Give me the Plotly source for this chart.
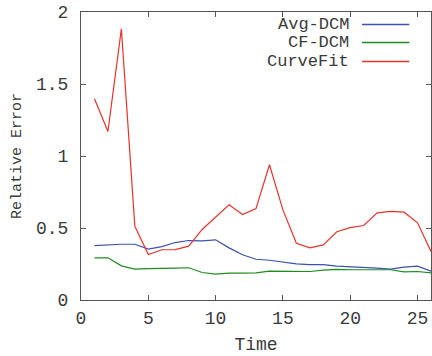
import plotly.graph_objects as go

time = list(range(1, 27))
avg_dcm = [0.378, 0.385, 0.387, 0.387, 0.353, 0.371, 0.399, 0.413, 0.411, 0.418,
           0.362, 0.314, 0.283, 0.276, 0.262, 0.251, 0.246, 0.246, 0.235, 0.232,
           0.228, 0.221, 0.214, 0.228, 0.235, 0.200]
cf_dcm = [0.293, 0.293, 0.237, 0.214, 0.218, 0.222, 0.222, 0.224, 0.191, 0.179,
          0.186, 0.186, 0.189, 0.200, 0.200, 0.200, 0.198, 0.207, 0.212, 0.210,
          0.210, 0.210, 0.210, 0.196, 0.198, 0.189]
curvefit = [1.397, 1.170, 1.883, 0.512, 0.316, 0.349, 0.350, 0.374, 0.490, 0.575,
            0.661, 0.594, 0.635, 0.939, 0.626, 0.394, 0.362, 0.383, 0.474, 0.503,
            0.517, 0.605, 0.615, 0.610, 0.536, 0.337]
names = ["Avg-DCM", "CF-DCM", "CurveFit"]
colors = ["#3a52b0", "#1e8c1e", "#e8322c"]
series = [avg_dcm, cf_dcm, curvefit]

FONT = "Liberation Mono, Courier New, monospace"
fig = go.Figure()
for n, s, c in zip(names, series, colors):
    fig.add_trace(go.Scatter(x=time, y=s, mode="lines", name=n,
                             line=dict(color=c, width=1.2), showlegend=False))

# gnuplot-style legend: text right-aligned, sample line to the right
leg_y = [0.957, 0.894, 0.828]
for n, c, yy in zip(names, colors, leg_y):
    fig.add_annotation(x=0.771, y=yy, xref="paper", yref="paper", text=n,
                       showarrow=False, xanchor="right", yanchor="middle",
                       font=dict(family=FONT, size=17, color="#3a3a3a"))
    fig.add_shape(type="line", xref="paper", yref="paper",
                  x0=0.803, x1=0.938, y0=yy, y1=yy,
                  line=dict(color=c, width=1.5))

axis_common = dict(showline=True, mirror="allticks", linecolor="#555", linewidth=1,
                   ticks="inside", ticklen=5, tickcolor="#555", showgrid=False,
                   zeroline=False, tickfont=dict(family=FONT, size=18, color="#3a3a3a"))
fig.update_xaxes(range=[0, 26], tickvals=[0, 5, 10, 15, 20, 25], ticklabelstandoff=1,
                 title=dict(text="Time", font=dict(family=FONT, size=18, color="#3a3a3a"), standoff=9),
                 **axis_common)
fig.update_yaxes(range=[0, 2], tickvals=[0, 0.5, 1, 1.5, 2],
                 ticktext=["0", "0.5", "1", "1.5", "2"], ticklabelstandoff=8,
                 title=dict(text="Relative Error", font=dict(family=FONT, size=15, color="#3a3a3a"), standoff=10),
                 **axis_common)
fig.update_layout(width=432, height=356, margin=dict(l=81, r=1, t=12, b=56),
                  plot_bgcolor="white", paper_bgcolor="white")
fig.write_html("out.html")
